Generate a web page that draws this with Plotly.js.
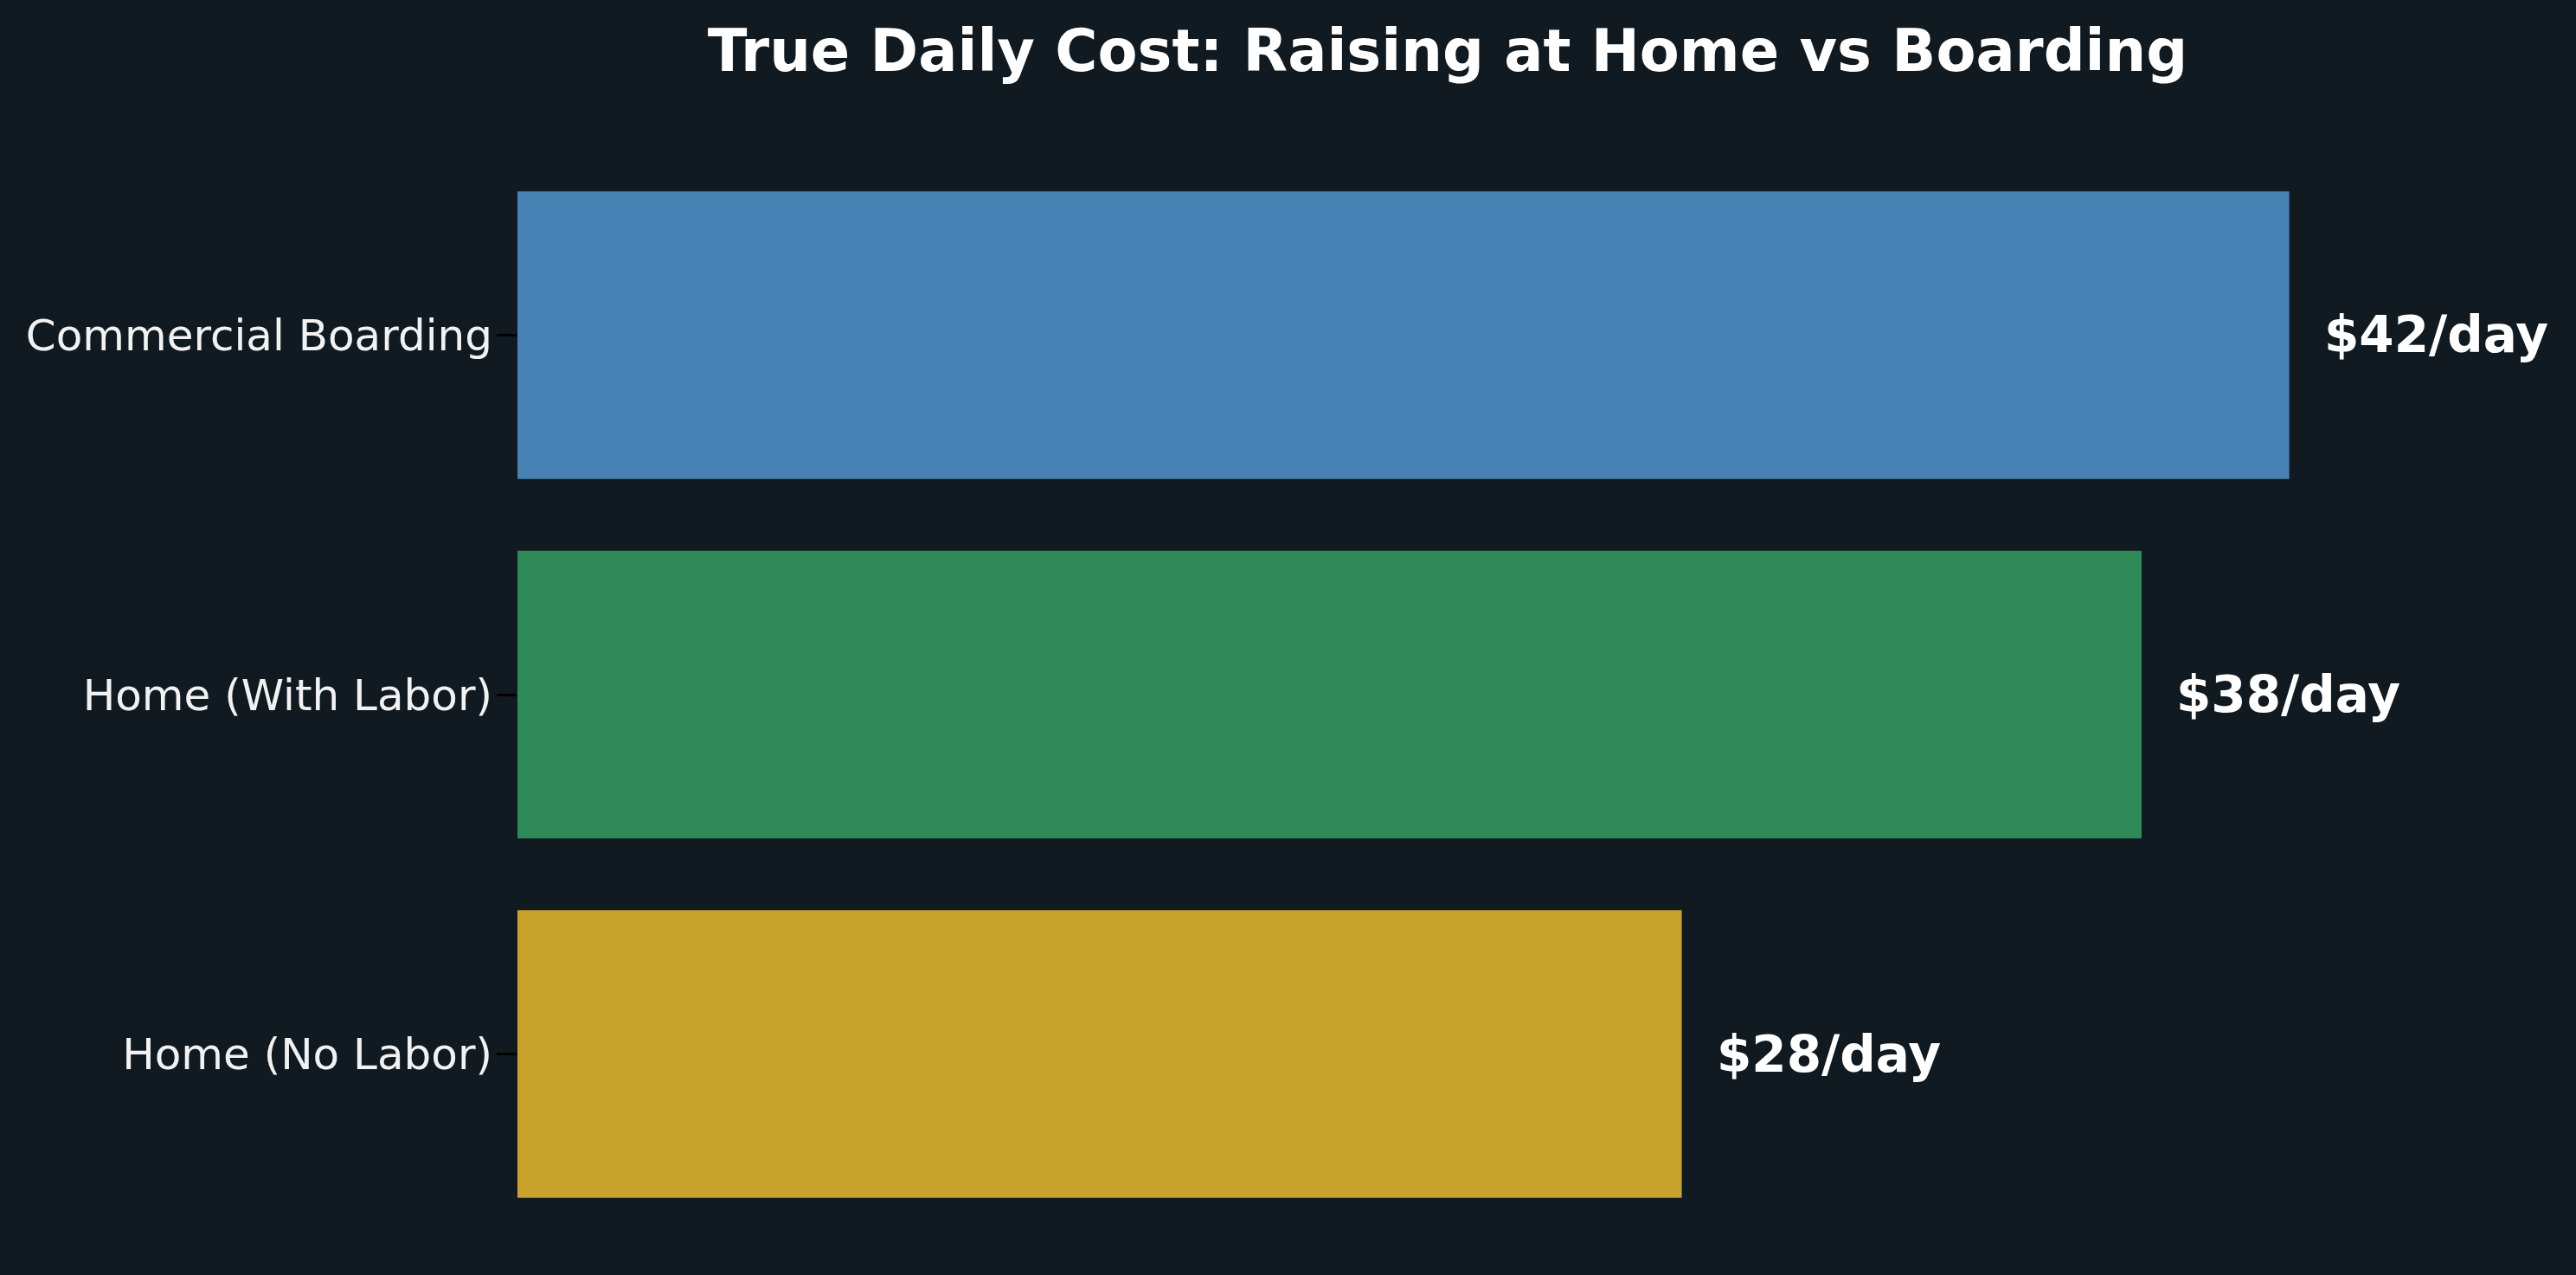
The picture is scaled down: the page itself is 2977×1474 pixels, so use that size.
<!DOCTYPE html>
<html>
<head>
<meta charset="utf-8">
<script src="https://cdn.plot.ly/plotly-3.0.1.min.js"></script>
<style>
  html, body { margin: 0; padding: 0; background: #101a20; }
  #chart { width: 2977px; height: 1474px; }
</style>
</head>
<body>
<div id="chart"></div>
<script>
// bottom to top, as drawn
const categories = ['Home (No Labor)', 'Home (With Labor)', 'Commercial Boarding'];
const dailyCost = [27.6, 38.5, 42];
const costLabels = ['$28/day', '$38/day', '$42/day'];
const barColors = ['#c9a22b', '#2e8b57', '#4682b4'];

const bg = '#101a20';

const trace = {
    type: 'bar',
    orientation: 'h',
    y: categories,
    x: dailyCost,
    width: 0.8,
    marker: { color: barColors, line: { width: 0 } },
    hoverinfo: 'skip',
    showlegend: false
};

// value labels to the right of each bar
const annotations = dailyCost.map((v, i) => ({
    x: v,
    y: categories[i],
    xref: 'x',
    yref: 'y',
    text: '<b>' + costLabels[i] + '</b>',
    showarrow: false,
    xanchor: 'left',
    yanchor: 'middle',
    xshift: 38,
    font: { family: 'DejaVu Sans', size: 58, color: '#ffffff' }
}));

const layout = {
    width: 2977,
    height: 1474,
    paper_bgcolor: bg,
    plot_bgcolor: bg,
    margin: { l: 598, r: 229, t: 163, b: 31 },
    title: {
        text: '<b>True Daily Cost: Raising at Home vs Boarding</b>',
        font: { family: 'DejaVu Sans', size: 67, color: '#ffffff' },
        x: 0.5,
        xref: 'paper',
        xanchor: 'center',
        y: 1 - 59 / 1474,
        yref: 'container',
        yanchor: 'middle'
    },
    xaxis: {
        range: [0, 44.1],
        visible: false,
        showgrid: false,
        zeroline: false,
        fixedrange: true
    },
    yaxis: {
        range: [-0.54, 2.54],
        showgrid: false,
        zeroline: false,
        showline: false,
        ticks: 'outside',
        ticklen: 23,
        tickwidth: 3,
        tickcolor: '#000000',
        ticklabelstandoff: -5,
        tickfont: { family: 'DejaVu Sans', size: 50, color: '#f2f2f2' },
        fixedrange: true
    },
    annotations: annotations,
    bargap: 0.2
};

Plotly.newPlot('chart', [trace], layout, { displayModeBar: false, staticPlot: true });
</script>
</body>
</html>
